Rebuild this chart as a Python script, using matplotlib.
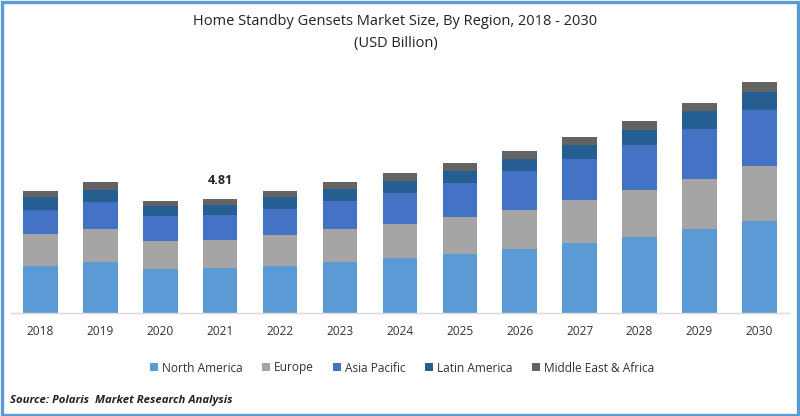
import matplotlib
matplotlib.use("Agg")
import matplotlib.pyplot as plt
from matplotlib.patches import Rectangle

years = ["2018", "2019", "2020", "2021", "2022", "2023", "2024", "2025", "2026", "2027", "2028", "2029", "2030"]
north_america = [2.00, 2.17, 1.85, 1.89, 2.00, 2.17, 2.31, 2.50, 2.70, 2.94, 3.21, 3.54, 3.87]
europe = [1.33, 1.36, 1.20, 1.20, 1.29, 1.36, 1.44, 1.54, 1.65, 1.80, 1.96, 2.10, 2.31]
asia_pacific = [1.01, 1.15, 1.04, 1.02, 1.09, 1.19, 1.30, 1.44, 1.61, 1.72, 1.88, 2.10, 2.35]
latin_america = [0.53, 0.50, 0.42, 0.44, 0.50, 0.49, 0.50, 0.50, 0.53, 0.61, 0.64, 0.73, 0.76]
mea = [0.25, 0.31, 0.22, 0.26, 0.25, 0.28, 0.32, 0.32, 0.32, 0.32, 0.38, 0.35, 0.42]
series = [("North America", north_america, "#5B9BD5"),
          ("Europe", europe, "#A5A5A5"),
          ("Asia Pacific", asia_pacific, "#4472C4"),
          ("Latin America", latin_america, "#255E91"),
          ("Middle East & Africa", mea, "#636363")]
title = "Home Standby Gensets Market Size, By Region, 2018 - 2030\n(USD Billion)"
source = "Source: Polaris  Market Research Analysis"

W, H = 800, 416
plt.rcParams["font.family"] = ["Open Sans", "DejaVu Sans"]
fig = plt.figure(figsize=(W / 100, H / 100), dpi=100, facecolor="white")
ax = fig.add_axes([11 / W, 1 - 313.3 / H, 778 / W, 253.3 / H])
ax.set_xlim(-0.4925, 12.496)
ax.set_ylim(0, 253.3 / 23.83)

x = list(range(len(years)))
bottom = [0.0] * len(years)
handles = []
for name, vals, col in series:
    b = ax.bar(x, vals, width=0.576, bottom=bottom, color=col, label=name, linewidth=0)
    handles.append(b)
    bottom = [p + q for p, q in zip(bottom, vals)]

ax.annotate("4.81", (3, bottom[3]), xytext=(0, 12), textcoords="offset pixels", ha="center", va="bottom",
            fontsize=9, fontweight="bold", color="#222222")

for s in ["top", "left", "right"]:
    ax.spines[s].set_visible(False)
ax.spines["bottom"].set_color("#D9D9D9")
ax.spines["bottom"].set_linewidth(1)
ax.set_yticks([])
ax.set_xticks(x)
ax.set_xticklabels(years, fontsize=8.6, color="#333333")
ax.tick_params(axis="x", length=0, pad=8.5)

fig.text(395.5 / W, 1 - 32.5 / H, title, ha="center", va="center", fontsize=10.5, color="#222222", linespacing=1.68)

leg = fig.legend(handles=handles, loc="center", bbox_to_anchor=(402 / W, 1 - 368 / H), ncol=5, frameon=False,
                 fontsize=8.6, handlelength=0.68, handleheight=0.68, handletextpad=0.32, columnspacing=1.62,
                 labelcolor="#333333")

fig.text(10 / W, 1 - 400 / H, source, ha="left", va="center", fontsize=8.2, fontweight="bold", fontstyle="italic",
         color="#222222")

fig.add_artist(Rectangle((1.5 / W, 1.5 / H), 796 / W, 413 / H, transform=fig.transFigure, fill=False,
                         edgecolor="#5B9BD5", linewidth=2.4))

fig.savefig("out.png", dpi=100, facecolor="white")
